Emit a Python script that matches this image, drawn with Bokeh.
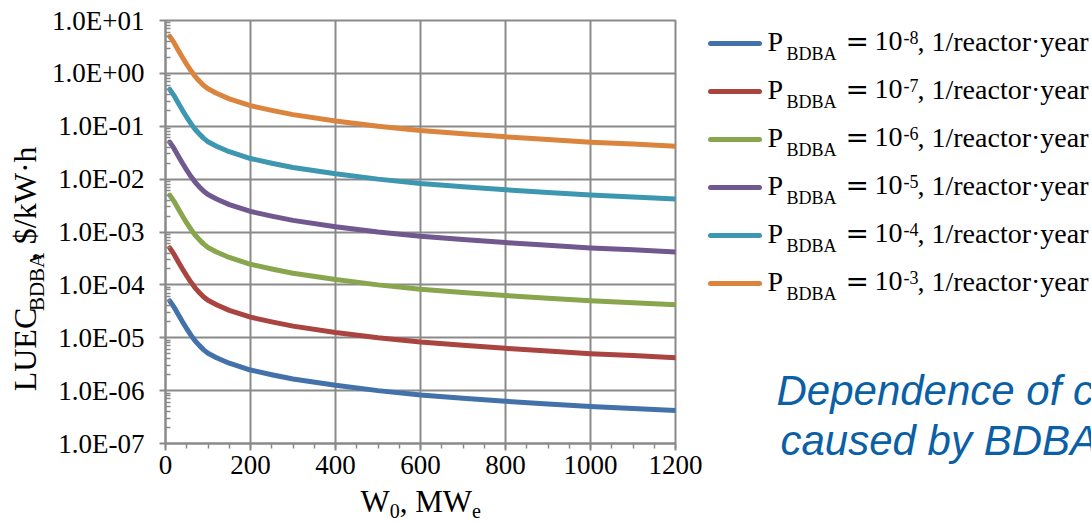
import numpy as np
from bokeh.plotting import figure
from bokeh.layouts import row, column
from bokeh.models import Range1d, FixedTicker, SingleIntervalTicker
from bokeh.core.properties import value
from bokeh.embed import file_html
from bokeh.resources import INLINE

# ---------------- data ----------------
W0 = [10, 20, 30, 40, 50, 60, 70, 80, 90, 100, 120, 150, 200, 250, 300,
      400, 500, 600, 700, 800, 900, 1000, 1100, 1200]

luec_p8 = [5.0e-5, 3.8e-5, 2.75e-5, 2.0e-5, 1.48e-5, 1.12e-5, 8.7e-6, 7.1e-6, 5.9e-6, 5.1e-6, 4.2e-6, 3.3e-6,
           2.45e-6, 2.0e-6, 1.66e-6, 1.26e-6, 1.0e-6, 8.3e-7, 7.2e-7, 6.3e-7, 5.6e-7, 5.0e-7, 4.6e-7, 4.2e-7]
luec_p7 = [5.0e-4, 3.8e-4, 2.75e-4, 2.0e-4, 1.48e-4, 1.12e-4, 8.7e-5, 7.1e-5, 5.9e-5, 5.1e-5, 4.2e-5, 3.3e-5,
           2.45e-5, 2.0e-5, 1.66e-5, 1.26e-5, 1.0e-5, 8.3e-6, 7.2e-6, 6.3e-6, 5.6e-6, 5.0e-6, 4.6e-6, 4.2e-6]
luec_p6 = [5.0e-3, 3.8e-3, 2.75e-3, 2.0e-3, 1.48e-3, 1.12e-3, 8.7e-4, 7.1e-4, 5.9e-4, 5.1e-4, 4.2e-4, 3.3e-4,
           2.45e-4, 2.0e-4, 1.66e-4, 1.26e-4, 1.0e-4, 8.3e-5, 7.2e-5, 6.3e-5, 5.6e-5, 5.0e-5, 4.6e-5, 4.2e-5]
luec_p5 = [5.0e-2, 3.8e-2, 2.75e-2, 2.0e-2, 1.48e-2, 1.12e-2, 8.7e-3, 7.1e-3, 5.9e-3, 5.1e-3, 4.2e-3, 3.3e-3,
           2.45e-3, 2.0e-3, 1.66e-3, 1.26e-3, 1.0e-3, 8.3e-4, 7.2e-4, 6.3e-4, 5.6e-4, 5.0e-4, 4.6e-4, 4.2e-4]
luec_p4 = [5.0e-1, 3.8e-1, 2.75e-1, 2.0e-1, 1.48e-1, 1.12e-1, 8.7e-2, 7.1e-2, 5.9e-2, 5.1e-2, 4.2e-2, 3.3e-2,
           2.45e-2, 2.0e-2, 1.66e-2, 1.26e-2, 1.0e-2, 8.3e-3, 7.2e-3, 6.3e-3, 5.6e-3, 5.0e-3, 4.6e-3, 4.2e-3]
luec_p3 = [5.0, 3.8, 2.75, 2.0, 1.48, 1.12, 8.7e-1, 7.1e-1, 5.9e-1, 5.1e-1, 4.2e-1, 3.3e-1,
           2.45e-1, 2.0e-1, 1.66e-1, 1.26e-1, 1.0e-1, 8.3e-2, 7.2e-2, 6.3e-2, 5.6e-2, 5.0e-2, 4.6e-2, 4.2e-2]

SERIES = [luec_p8, luec_p7, luec_p6, luec_p5, luec_p4, luec_p3]
EXPONENTS = ["-8", "-7", "-6", "-5", "-4", "-3"]
COLORS = ["#4372AA", "#AA4441", "#89A54E", "#71588F", "#3E97B0", "#DB843D"]

Y_TICKS = [1e-7, 1e-6, 1e-5, 1e-4, 1e-3, 1e-2, 1e-1, 1e0, 1e1]
Y_TICK_LABELS = ["1.0E-07", "1.0E-06", "1.0E-05", "1.0E-04", "1.0E-03",
                 "1.0E-02", "1.0E-01", "1.0E+00", "1.0E+01"]

TITLE_LINES = ["Dependence of c", "caused by BDBA"]

# ---------------- styling helpers ----------------
SERIF = "Liberation Serif"
GRID = "#8A8A8A"
BASE_K = 0.36     # renderer puts "alphabetic" text this many em lower; compensate


def rot_shift(size):
    # rotated text is also moved along its direction by about this many px
    return 15 + 0.58 * size


TW = {'P': 0.556, 'B': 0.667, 'D': 0.722, 'A': 0.722, 'L': 0.611, 'U': 0.722, 'E': 0.611,
      'C': 0.667, ' ': 0.25, ',': 0.25, '$': 0.5, '/': 0.278, 'k': 0.5, 'W': 0.944,
      '·': 0.25, 'h': 0.5, '0': 0.5, 'M': 0.889, 'e': 0.444}


def tw(s, size):
    return sum(TW.get(c, 0.5) for c in s) * size


def canvas(x0, x1, y0, y1):
    """blank figure whose data coordinates equal page pixels"""
    c = figure(width=x1 - x0, height=y1 - y0, x_range=Range1d(x0, x1), y_range=Range1d(y1, y0),
               x_axis_location=None, y_axis_location=None, output_backend="svg",
               toolbar_location=None, min_border=0)
    c.grid.visible = False
    c.outline_line_color = None
    c.background_fill_color = "white"
    c.border_fill_color = "white"
    return c


# page geometry
PAGE_W, PAGE_H = 1091, 524
FL, FR, FT, FB = 165, 675, 20, 443
YLAB_W = 46
RIGHT_PAD = 30
XLAB_TOP = 490
QX = FR + RIGHT_PAD

p = figure(frame_width=FR - FL, frame_height=FB - FT,
           min_border_left=FL - YLAB_W, min_border_right=RIGHT_PAD,
           min_border_top=FT, min_border_bottom=XLAB_TOP - FB,
           x_range=Range1d(0, 1200), y_range=Range1d(1e-7, 1e1),
           y_axis_type="log", output_backend="svg", toolbar_location=None)
p.background_fill_color = "white"
p.border_fill_color = "white"
p.outline_line_color = GRID
p.outline_line_width = 2

for s, c in zip(SERIES, COLORS):
    p.line(W0, s, line_color=c, line_width=5, line_cap="round", line_join="round")

p.xaxis.ticker = SingleIntervalTicker(interval=200, num_minor_ticks=4)
p.yaxis.ticker = FixedTicker(ticks=Y_TICKS,
                             minor_ticks=[m * t for t in Y_TICKS[:-1] for m in range(2, 10)])
p.yaxis.major_label_overrides = dict(zip(Y_TICKS, Y_TICK_LABELS))

for ax in (p.xaxis, p.yaxis):
    ax.axis_line_color = GRID
    ax.axis_line_width = 2
    ax.major_tick_line_color = GRID
    ax.major_tick_line_width = 2
    ax.minor_tick_line_color = GRID
    ax.minor_tick_line_width = 1.5
    ax.major_label_text_font = SERIF
    ax.major_label_text_font_size = "27px"
    ax.major_label_text_color = "black"

p.xaxis.major_tick_out = 7
p.xaxis.major_tick_in = 0
p.xaxis.minor_tick_out = 5
p.xaxis.minor_tick_in = 0
p.xaxis.major_label_standoff = 5

p.yaxis.major_tick_out = 6
p.yaxis.major_tick_in = 0
p.yaxis.minor_tick_out = 0
p.yaxis.minor_tick_in = 5
p.yaxis.major_label_standoff = 15

p.xgrid.grid_line_color = GRID
p.xgrid.grid_line_width = 2
p.ygrid.grid_line_color = GRID
p.ygrid.grid_line_width = 2


def put(fig, x, y, txt, size, angle=0.0, **kw):
    """text with its alphabetic baseline starting at page (x, y)"""
    d = BASE_K * size
    if angle:
        x = x - d
        y = y + rot_shift(size)
    else:
        y = y - d
    fig.text([x], [y], text=[txt], text_font=value(kw.get("font", SERIF)),
             text_font_style=kw.get("style", "normal"),
             text_font_size=value(f"{size}px"), text_color=kw.get("color", "black"),
             text_baseline="alphabetic", text_align="left", angle=angle)


# ---------------- y-axis title: LUEC_BDBA, $/kW·h ----------------
ylab = canvas(0, YLAB_W, 0, XLAB_TOP)
ypos = 396
for txt, size, shift, gap in [("LUEC", 32, 0, 3), ("BDBA", 21, 8, 7), (", $/kW·h", 32, 0, 0)]:
    put(ylab, 36 + shift, ypos, txt, size, angle=np.pi / 2)
    ypos -= tw(txt, size) + gap

# ---------------- x-axis title: W_0, MW_e ----------------
xlab = canvas(0, QX, XLAB_TOP, PAGE_H)
xpos = 360
for txt, size, shift in [("W", 31, 0), ("0", 20, 6), (", MW", 31, 0), ("e", 20, 6)]:
    put(xlab, xpos, 512 + shift, txt, size)
    xpos += tw(txt, size)

# ---------------- right panel: legend + caption ----------------
q = canvas(QX, PAGE_W, 0, PAGE_H)

rows_y = [43 + 48 * i for i in range(6)]
q.segment(x0=[710] * 6, x1=[759] * 6, y0=rows_y, y1=rows_y,
          line_color=COLORS, line_width=5, line_cap="round")

for ly, exp in zip(rows_y, EXPONENTS):
    put(q, 767, ly + 8, "P", 28)
    put(q, 786, ly + 17, "BDBA", 18)
    put(q, 845, ly + 8, "=", 28, font="DejaVu Serif")
    put(q, 874, ly + 8, "10", 28)
    put(q, 903, ly + 0, exp, 18)
    put(q, 917, ly + 8, ", 1/reactor·year", 28)

for (x, y), t in zip([(776, 405), (780, 455)], TITLE_LINES):
    put(q, x, y, t, 42, font="Liberation Sans", style="italic", color="#0B5FA5")

layout = row(column(row(ylab, p), xlab), q)
open("out.html", "w").write(file_html(layout, INLINE))
